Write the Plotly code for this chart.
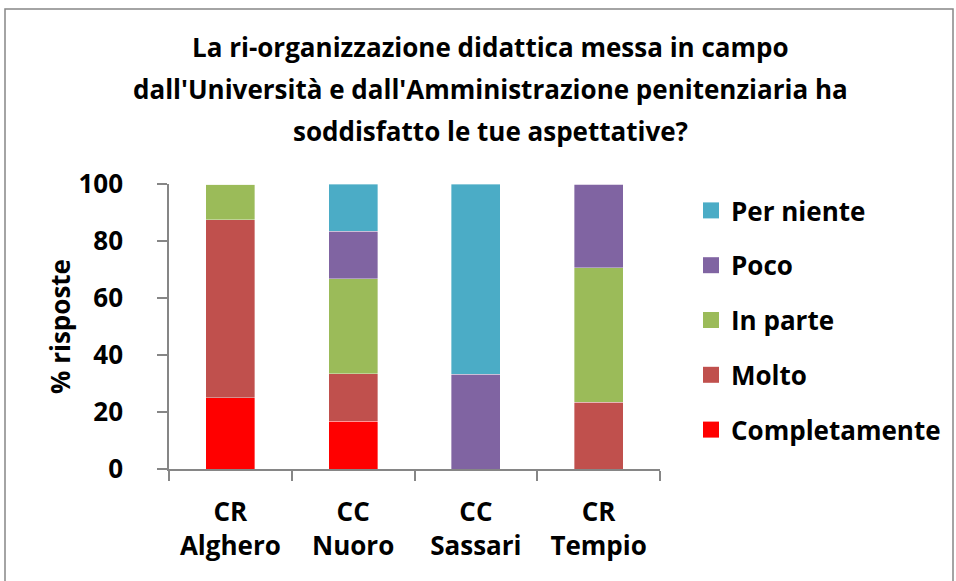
import plotly.graph_objects as go

categories = ["CR<br>Alghero", "CC<br>Nuoro", "CC<br>Sassari", "CR<br>Tempio"]
series_names = ["Completamente", "Molto", "In parte", "Poco", "Per niente"]
completamente = [25.0, 16.7, 0, 0]
molto = [62.5, 16.7, 0, 23.5]
in_parte = [12.5, 33.3, 0, 47.1]
poco = [0, 16.7, 33.3, 29.4]
per_niente = [0, 16.6, 66.7, 0]
colors = ["#FF0000", "#C0504D", "#9BBB59", "#8064A2", "#4BACC6"]
y_ticks = [0, 20, 40, 60, 80, 100]
title_lines = [
    "La ri-organizzazione didattica messa in campo",
    "dall'Università e dall'Amministrazione penitenziaria ha",
    "soddisfatto le tue aspettative?",
]

FONT = "Open Sans"
values = [completamente, molto, in_parte, poco, per_niente]

fig = go.Figure()
for name, vals, col in zip(series_names, values, colors):
    fig.add_trace(go.Bar(
        x=categories, y=vals, name=name, width=0.4,
        marker=dict(color=col, line=dict(color="rgba(255,255,255,0.6)", width=0.6)),
        showlegend=False,
    ))
# legend entries with bigger square swatches (top: Per niente)
n = len(series_names)
for i, (name, col) in enumerate(zip(series_names, colors)):
    fig.add_trace(go.Scatter(
        x=[None], y=[None], mode="markers", name=name,
        marker=dict(symbol="square", size=18, color=col),
        legendgroup="g%d" % i, legendrank=n - i, showlegend=True,
    ))

L, R, T, B = 169, 296, 184, 112
pw, ph = 956 - L - R, 581 - T - B

annotations = []
for i, line in enumerate(title_lines):
    annotations.append(dict(
        text=line, xref="paper", yref="paper",
        x=(490 - L) / pw, y=(469 - (47 + 42 * i)) / ph,
        xanchor="center", yanchor="middle", showarrow=False,
        font=dict(family=FONT, size=26, color="#000000", weight="bold"),
    ))

fig.update_layout(
    width=956, height=581,
    margin=dict(l=L, r=R, t=T, b=B, autoexpand=False),
    paper_bgcolor="white", plot_bgcolor="white",
    barmode="stack",
    font=dict(family=FONT, size=26, color="#000000", weight="bold"),
    annotations=annotations,
    legend=dict(
        x=(691 - L) / pw, y=(469 - 187) / ph, xanchor="left", yanchor="top",
        traceorder="grouped", tracegroupgap=18,
        font=dict(family=FONT, size=26, color="#000000", weight="bold"),
        itemwidth=30, bgcolor="rgba(0,0,0,0)",
    ),
    shapes=[dict(
        type="rect", xref="paper", yref="paper",
        x0=(5 - L) / pw, x1=(953 - L) / pw,
        y0=(469 - 600) / ph, y1=(469 - 9) / ph,
        line=dict(color="#868686", width=1.5), fillcolor="rgba(0,0,0,0)",
    )],
)
fig.update_yaxes(
    range=[0, 100], tickvals=y_ticks, showgrid=False, zeroline=False,
    showline=True, linecolor="#868686", linewidth=1.5,
    ticks="outside", ticklen=10, tickcolor="#868686", tickwidth=1.5,
    ticklabelstandoff=29, automargin=False,
    title=dict(text="% risposte", font=dict(family=FONT, size=26, weight="bold"), standoff=0),
    tickfont=dict(family=FONT, size=26, weight="bold"),
)
fig.update_xaxes(
    showgrid=False, showline=True, linecolor="#868686", linewidth=1.5,
    ticks="outside", ticklen=10, tickcolor="#868686", tickwidth=1.5,
    tickson="boundaries", ticklabelstandoff=19, automargin=False,
    tickfont=dict(family=FONT, size=26, weight="bold"),
)

fig.write_html("out.html", config={"displayModeBar": False},
               post_script="document.body.style.margin='0';")
